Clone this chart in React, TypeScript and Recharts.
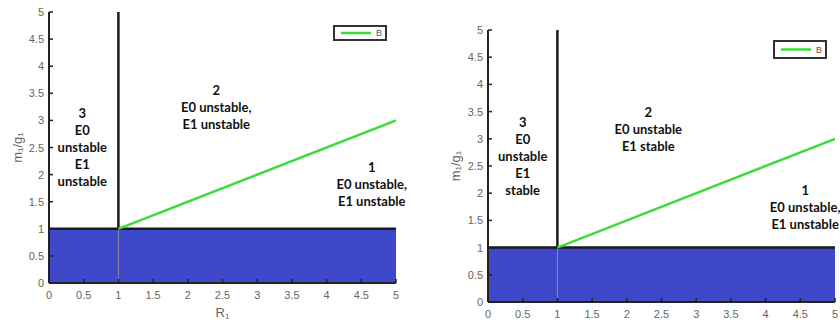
import React from 'react';
import { ComposedChart, Line, XAxis, YAxis, ReferenceArea, ReferenceLine, ReferenceDot, Legend, Label } from 'recharts';

const axisTicks = [0, 0.5, 1, 1.5, 2, 2.5, 3, 3.5, 4, 4.5, 5];
const axisTickLabels = ['0', '0.5', '1', '1.5', '2', '2.5', '3', '3.5', '4', '4.5', '5'];
const curveB = [
  { r: 1, m: 1 },
  { r: 5, m: 3 },
];
const bandR = [0, 5];
const bandM = [0, 1];
const thresholdR = 1;
const thresholdM = 1;
const maxM = 5;

const leftRegions = [
  { r: 0.48, m: 2.51, lines: ['3', 'E0', 'unstable', 'E1', 'unstable'] },
  { r: 2.41, m: 3.24, lines: ['2', 'E0 unstable,', 'E1 unstable'] },
  { r: 4.65, m: 1.83, lines: ['1', 'E0 unstable,', 'E1 unstable'] },
];
const rightRegions = [
  { r: 0.5, m: 2.68, lines: ['3', 'E0', 'unstable', 'E1', 'stable'] },
  { r: 2.31, m: 3.18, lines: ['2', 'E0 unstable', 'E1 stable'] },
  { r: 4.57, m: 1.75, lines: ['1', 'E0 unstable,', 'E1 unstable'] },
];

const TICK_FONT = '"Liberation Sans", Arial, sans-serif';
const TEXT_FONT = 'Lato, "Open Sans", sans-serif';
const BLUE = '#3f48c8';
const GREEN = '#3ddc3a';

const labelOf = (v: number) => axisTickLabels[axisTicks.indexOf(v)] ?? String(v);

const YTick = (props: any) => {
  const { x, y, payload } = props;
  return (
    <g>
      <line x1={x} x2={x + 4} y1={y} y2={y} stroke="#222" strokeWidth={1.5} />
      <text x={x - 5} y={y} textAnchor="end" dominantBaseline="central" fill="#666" fontSize={11} fontFamily={TICK_FONT}>
        {labelOf(payload.value)}
      </text>
    </g>
  );
};

const XTick = (props: any) => {
  const { x, y, payload } = props;
  return (
    <g>
      <line x1={x} x2={x} y1={y} y2={y - 4} stroke="#222" strokeWidth={1.5} />
      <text x={x} y={y + 12} textAnchor="middle" dominantBaseline="central" fill="#666" fontSize={11} fontFamily={TICK_FONT}>
        {labelOf(payload.value)}
      </text>
    </g>
  );
};

const RegionText = (lines: string[]) => (props: any) => {
  const { cx, cy } = props;
  const step = 17;
  const start = cy - ((lines.length - 1) * step) / 2;
  return (
    <g>
      {lines.map((t, i) => (
        <text key={i} x={cx} y={start + i * step} textAnchor="middle" dominantBaseline="central" fontSize={13} fontWeight={700} fontFamily={TEXT_FONT} fill="#111">
          {t}
        </text>
      ))}
    </g>
  );
};

const LegendBox = ({ w, h }: { w: number; h: number }) => (
  <div style={{ width: w, height: h, border: '2px solid #333', boxSizing: 'border-box', background: '#fff', position: 'relative' }}>
    <svg width={w - 4} height={h - 4} style={{ position: 'absolute', left: 0, top: 0 }}>
      <line x1={6} x2={36} y1={(h - 4) / 2} y2={(h - 4) / 2} stroke={GREEN} strokeWidth={2.5} />
      <text x={41} y={(h - 4) / 2} dominantBaseline="central" fontSize={9} fill="#555" fontFamily={TICK_FONT}>B</text>
    </svg>
  </div>
);

type PanelProps = {
  left: number;
  margin: { top: number; right: number; bottom: number; left: number };
  yAxisWidth: number;
  xAxisHeight: number;
  yLabelX: number;
  showXLabel: boolean;
  regions: { r: number; m: number; lines: string[] }[];
  legend: { x: number; y: number; w: number; h: number };
};

const Panel = ({ left, margin, yAxisWidth, xAxisHeight, yLabelX, showXLabel, regions, legend }: PanelProps) => (
  <div style={{ position: 'absolute', left, top: 0, width: 420, height: 320 }}>
    <ComposedChart width={420} height={320} margin={{ ...margin, bottom: margin.bottom - legend.h }}>
      <XAxis
        dataKey="r"
        type="number"
        domain={[0, 5]}
        ticks={axisTicks}
        allowDataOverflow
        axisLine={{ stroke: '#222', strokeWidth: 2 }}
        tickLine={false}
        tickSize={0}
        tickMargin={0}
        tick={<XTick />}
        height={xAxisHeight}
        interval={0}
      >
        {showXLabel && (
          <Label
            content={(p: any) => {
              const vb = p.viewBox;
              return (
                <text x={vb.x + vb.width / 2} y={vb.y + 29} textAnchor="middle" dominantBaseline="central" fill="#666" fontSize={13} fontFamily={TICK_FONT}>
                  R<tspan fontSize={8} dy={4}>1</tspan>
                </text>
              );
            }}
          />
        )}
      </XAxis>
      <YAxis
        dataKey="m"
        type="number"
        domain={[0, 5]}
        ticks={axisTicks}
        allowDataOverflow
        axisLine={{ stroke: '#222', strokeWidth: 2 }}
        tickLine={false}
        tickSize={0}
        tickMargin={0}
        tick={<YTick />}
        width={yAxisWidth}
        interval={0}
      >
        <Label
          content={(p: any) => {
            const vb = p.viewBox;
            const cx = vb.x + yLabelX;
            const cy = vb.y + vb.height / 2;
            return (
              <text x={cx} y={cy} transform={`rotate(-90, ${cx}, ${cy})`} textAnchor="middle" dominantBaseline="central" fill="#666" fontSize={13} fontFamily={TICK_FONT}>
                m<tspan fontSize={8} dy={3}>1</tspan><tspan dy={-3}>/g</tspan><tspan fontSize={8} dy={3}>1</tspan>
              </text>
            );
          }}
        />
      </YAxis>
      <ReferenceArea x1={bandR[0]} x2={bandR[1]} y1={bandM[0]} y2={bandM[1]} fill={BLUE} fillOpacity={1} stroke="none" />
      <ReferenceLine segment={[{ x: thresholdR, y: bandM[0] }, { x: thresholdR, y: thresholdM }]} stroke="#8a8aa0" strokeWidth={1} />
      <ReferenceLine segment={[{ x: bandR[0], y: thresholdM }, { x: bandR[1], y: thresholdM }]} stroke="#1a1a1a" strokeWidth={2.5} />
      <ReferenceLine segment={[{ x: thresholdR, y: thresholdM }, { x: thresholdR, y: maxM }]} stroke="#1a1a1a" strokeWidth={2.5} />
      <Line data={curveB} dataKey="m" type="linear" stroke={GREEN} strokeWidth={2.5} dot={false} isAnimationActive={false} name="B" />
      {regions.map((g, i) => (
        <ReferenceDot key={i} x={g.r} y={g.m} r={0} ifOverflow="visible" shape={RegionText(g.lines)} />
      ))}
      <Legend
        content={() => <LegendBox w={legend.w} h={legend.h} />}
        wrapperStyle={{ position: 'absolute', left: legend.x, top: legend.y, width: legend.w, height: legend.h }}
      />
    </ComposedChart>
  </div>
);

export default function App() {
  return (
    <div style={{ position: 'absolute', left: 0, top: 0, width: 840, height: 320, background: '#fff', overflow: 'hidden' }}>
      <Panel
        left={0}
        margin={{ top: 12, right: 24, bottom: 0, left: 0 }}
        yAxisWidth={49}
        xAxisHeight={37}
        yLabelX={17}
        showXLabel={true}
        regions={leftRegions}
        legend={{ x: 333, y: 25, w: 54, h: 16 }}
      />
      <Panel
        left={420}
        margin={{ top: 30, right: 5, bottom: 0, left: 0 }}
        yAxisWidth={68}
        xAxisHeight={18}
        yLabelX={35}
        showXLabel={false}
        regions={rightRegions}
        legend={{ x: 353, y: 40, w: 54, h: 19 }}
      />
    </div>
  );
}
